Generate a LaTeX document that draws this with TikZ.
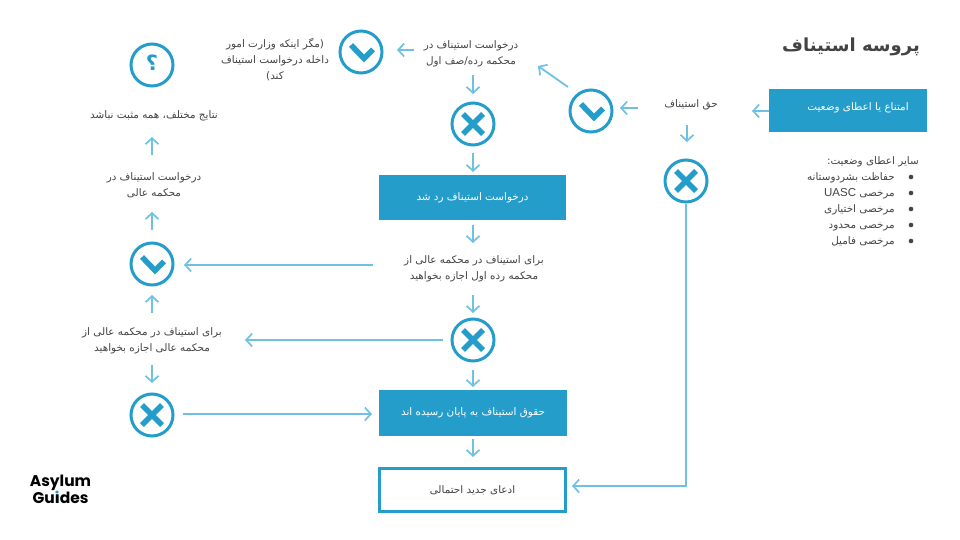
\documentclass[tikz,border=0pt]{standalone}
\usepackage{fontspec}
\usetikzlibrary{arrows.meta}
\TeXXeTstate=1
\newfontfamily\arabicfont[Script=Arabic]{DejaVu Sans}
\newfontfamily\latinfont{Liberation Sans}
\newfontfamily\logofont{Poppins}
\newcommand\rtl[1]{\beginR #1\endR}
\definecolor{ringblue}{HTML}{259DCB}
\definecolor{arrowblue}{HTML}{6FC1E4}
\definecolor{inkgrey}{HTML}{434343}
\tikzset{
  txt/.style={font=\arabicfont\fontsize{10.4}{16}\selectfont,text=inkgrey,align=center,inner sep=0pt},
  whitetxt/.style={font=\arabicfont\fontsize{10.4}{16}\selectfont,text=white,align=center,inner sep=0pt},
  ring/.style={circle,draw=ringblue,line width=3pt,minimum size=42pt,inner sep=0pt,fill=white},
  bluebox/.style={rectangle,fill=ringblue,inner sep=0pt},
  whitebox/.style={rectangle,fill=white,draw=ringblue,line width=3pt,inner sep=0pt},
  arr/.style={draw=arrowblue,line width=1.8pt,-{Straight Barb[length=6pt,width=13pt,line width=1.7pt]}},
  dot/.style={circle,fill=inkgrey,minimum size=4.6pt,inner sep=0pt},
  chk/.pic={\draw[ringblue,line width=5.5pt,miter limit=10] (-10,-7) -- (3,6.5) -- (12,-2.5);},
  crs/.pic={\draw[ringblue,line width=5.5pt] (-10,-10) -- (10,10) (-10,10) -- (10,-10);},
}
\newcommand\conn[6]{\draw[arr] ([shift={(#2,#3)}]#1.center) -- ([shift={(#5,#6)}]#4.center);}
\begin{document}
\begin{tikzpicture}[x=1pt,y=-1pt]
\useasboundingbox (0,0) rectangle (960,540);
% title
\node[font=\arabicfont\bfseries\fontsize{18}{20}\selectfont,text=inkgrey,inner sep=0pt] (title) at (851,46.5) {\rtl{پروسه استیناف}};
% boxes
\node[bluebox,minimum width=158pt,minimum height=43pt] (b0) at (848,110.5) {};
\node[whitetxt] (b0t) at (858,108) {\rtl{امتناع یا اعطای وضعیت}};
\node[bluebox,minimum width=187pt,minimum height=45pt,whitetxt] (b1) at (472.5,197.5) {\rtl{درخواست استیناف رد شد}};
\node[bluebox,minimum width=188pt,minimum height=46pt,whitetxt] (b2) at (473,413) {\rtl{حقوق استیناف به پایان رسیده اند}};
\node[whitebox,minimum width=186pt,minimum height=43pt,txt] (b3) at (472.5,490) {\rtl{ادعای جدید احتمالی}};
% texts
\node[txt] (tHaq) at (691,105) {\rtl{حق استیناف}};
\node[txt] (tA) at (471,54) {\rtl{درخواست استیناف در}\\\rtl{محکمه رده/صف اول}};
\node[txt] (tU) at (275,60) {\rtl{(مگر اینکه وزارت امور}\\\rtl{داخله درخواست استیناف}\\\rtl{کند)}};
\node[txt] (tR) at (154,116) {\rtl{نتایج مختلف، همه مثبت نباشد}};
\node[txt] (tS) at (154,185) {\rtl{درخواست استیناف در}\\\rtl{محکمه عالی}};
\node[txt] (tP1) at (474,269) {\rtl{برای استیناف در محکمه عالی از}\\\rtl{محکمه رده اول اجازه بخواهید}};
\node[txt] (tP2) at (152,341) {\rtl{برای استیناف در محکمه عالی از}\\\rtl{محکمه عالی اجازه بخواهید}};
% list
\node[txt,anchor=base east] (lh) at (919,164.5) {\rtl{سایر اعطای وضعیت:}};
\node[txt,anchor=base east] (l1) at (895,180) {\rtl{حفاظت بشردوستانه}};
\node[txt,anchor=base east] (l2) at (895,196.5) {\rtl{مرخصی \beginL{\latinfont\fontsize{11.5}{16}\selectfont UASC}\endL}};
\node[txt,anchor=base east] (l3) at (895,212.5) {\rtl{مرخصی اختیاری}};
\node[txt,anchor=base east] (l4) at (895,228.5) {\rtl{مرخصی محدود}};
\node[txt,anchor=base east] (l5) at (895,244.5) {\rtl{مرخصی فامیل}};
\node[dot] (d1) at (911,177) {};
\node[dot] (d2) at (911,193) {};
\node[dot] (d3) at (911,209) {};
\node[dot] (d4) at (911,225) {};
\node[dot] (d5) at (911,241) {};
% rings
\node[ring] (q) at (152,65) {};
\node[font=\arabicfont\bfseries\fontsize{21}{21}\selectfont,text=ringblue,inner sep=0pt] (qm) at (152,63) {\rtl{؟}};
\node[ring] (c1) at (361,52) {}; \pic at (c1) {chk};
\node[ring] (c2) at (591,111) {}; \pic at (c2) {chk};
\node[ring] (c3) at (152,264) {}; \pic at (c3) {chk};
\node[ring] (x1) at (473,124) {}; \pic at (x1) {crs};
\node[ring] (x2) at (473,340) {}; \pic at (x2) {crs};
\node[ring] (x3) at (152,415) {}; \pic at (x3) {crs};
\node[ring] (x4) at (686,181) {}; \pic at (x4) {crs};
% connectors
\conn{b0}{-79}{0.5}{tHaq}{61}{6}
\conn{tHaq}{-53}{3}{c2}{29}{-3}
\conn{c2}{-23}{-24}{tA}{67}{12}
\conn{tA}{-57}{-4}{c1}{36}{-2}
\conn{tA}{2}{21}{x1}{0}{-30}
\conn{x1}{0}{29}{b1}{0.5}{-25.5}
\conn{b1}{0.5}{27.5}{tP1}{-1}{-26}
\conn{tP1}{-1}{26}{x2}{0}{-27}
\conn{tP1}{-101}{-4}{c3}{32}{1}
\conn{x2}{-30}{0}{tP2}{93}{-1}
\conn{x2}{0}{30}{b2}{0}{-26}
\conn{tP2}{0}{-28}{c3}{0}{31}
\conn{tP2}{0}{24}{x3}{0}{-32}
\conn{x3}{31}{-1}{b2}{-101}{1}
\conn{c3}{0}{-34}{tS}{-2}{27}
\conn{tS}{-2}{-30}{tR}{-2}{21}
\conn{b2}{0}{26}{b3}{0.5}{-33}
\conn{tHaq}{-4}{20}{x4}{1}{-39}
\draw[arr] ([shift={(0,23)}]x4.center) |- ([shift={(99.5,-4)}]b3.center);
% logo
\node[font=\logofont\bfseries\fontsize{15.5}{15}\selectfont,text=black,align=center,inner sep=0pt] (logo) at (60.5,489.5) {Asylum\\Gu\rlap{\textcolor{ringblue}{i}}ıdes};
\end{tikzpicture}
\end{document}
